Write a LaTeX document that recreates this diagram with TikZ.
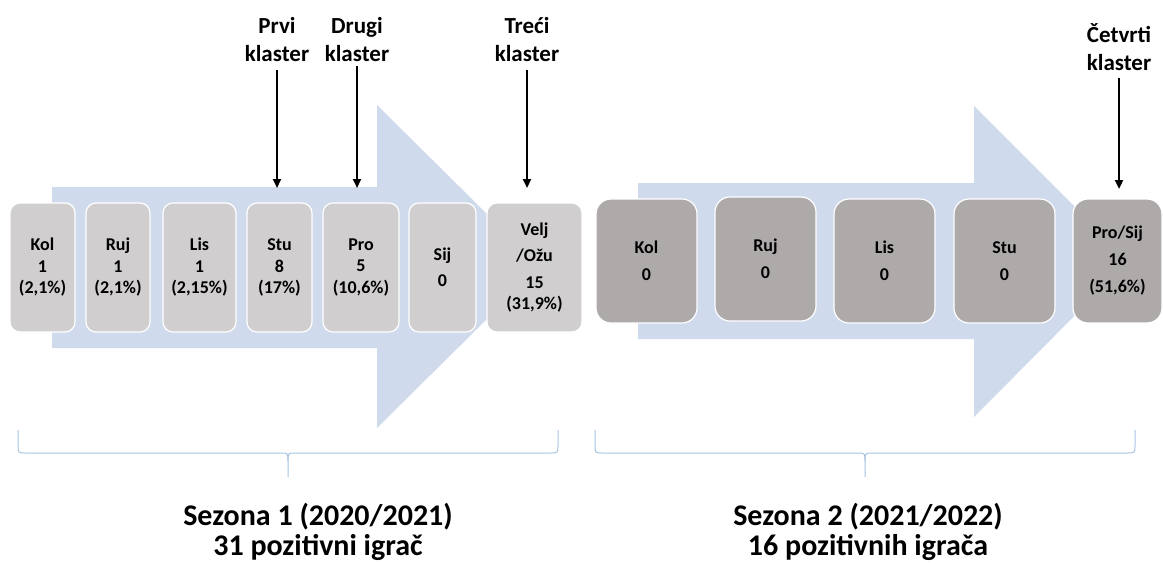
\documentclass[tikz,border=0pt]{standalone}
\usepackage{fontspec}
\setmainfont{Carlito}
\usetikzlibrary{arrows.meta}
\definecolor{arrowblue}{HTML}{CFDBEC}
\definecolor{boxlight}{HTML}{D0CECE}
\definecolor{boxdark}{HTML}{AEAAAA}
\definecolor{bracecol}{HTML}{A8C3E0}
\begin{document}
\begin{tikzpicture}[x=1pt,y=-1pt,
  mbox/.style={draw=white, line width=1.2pt, rounded corners=10pt, inner sep=0pt, align=center,
    font=\fontsize{18}{21.5}\selectfont\bfseries},
  lbox/.style={mbox, fill=boxlight, minimum height=129pt},
  dbox/.style={mbox, fill=boxdark, rounded corners=15pt, minimum height=124pt,
    font=\fontsize{18}{27}\selectfont\bfseries},
  clabel/.style={align=center, inner sep=0pt, anchor=south, font=\fontsize{23}{28}\selectfont\bfseries},
  clarrow/.style={-{Triangle[length=9pt,width=8pt]}, line width=2.2pt},
  flow/.style={fill=arrowblue},
  brace/.style={draw=bracecol, line width=1pt},
  season/.style={align=center, inner sep=0pt, font=\fontsize{30}{30.5}\selectfont\bfseries}]
\useasboundingbox (0,0) rectangle (1163,563);

% big flow arrows
\path[flow] (52,187) -- (377,187) -- (377,105) -- (540,266.5) -- (377,428) -- (377,348) -- (52,348) -- cycle;
\path[flow] (638,183) -- (974,183) -- (974,106) -- (1129,261) -- (974,417) -- (974,339) -- (638,339) -- cycle;

% season 1 boxes
\node[lbox, minimum width=65pt] (kol1) at (42.5,267.5) {Kol\\1\\(2,1\%)};
\node[lbox, minimum width=64pt] (ruj1) at (118,267.5) {Ruj\\1\\(2,1\%)};
\node[lbox, minimum width=73pt] (lis1) at (199.5,267.5) {Lis\\1\\(2,15\%)};
\node[lbox, minimum width=65pt] (stu1) at (279.5,267.5) {Stu\\8\\(17\%)};
\node[lbox, minimum width=76pt] (pro1) at (361,267.5) {Pro\\5\\(10,6\%)};
\node[lbox, minimum width=67pt] (sij1) at (442.5,267.5) {Sij\\[4.5pt]0};
\node[lbox, minimum width=95pt] (velj1) at (534.5,267.5) {Velj\\[5pt]/Ožu\\[5pt]15\\(31,9\%)};

% season 2 boxes
\node[dbox, minimum width=101pt] (kol2) at (646.5,261) {Kol\\0};
\node[dbox, minimum width=101pt] (ruj2) at (765.5,259) {Ruj\\0};
\node[dbox, minimum width=101pt] (lis2) at (884.5,261) {Lis\\0};
\node[dbox, minimum width=101pt] (stu2) at (1004.5,261) {Stu\\0};
\node[dbox, minimum width=89pt] (pro2) at (1117.5,261) {Pro/Sij\\16\\(51,6\%)};

% cluster labels
\node[clabel] (lab1) at (277,62) {Prvi\\klaster};
\node[clabel] (lab2) at (357,62) {Drugi\\klaster};
\node[clabel] (lab3) at (527,62) {Treći\\klaster};
\node[clabel] (lab4) at (1119,70.5) {Četvrti\\klaster};
\coordinate (c1) at (277,188);
\coordinate (c2) at (357,188);
\coordinate (c3) at (527,188);
\coordinate (c4) at (1119,189);
\draw[clarrow, shorten <=8pt] (lab1) -- (c1);
\draw[clarrow, shorten <=3.5pt] (lab2) -- (c2);
\draw[clarrow, shorten <=8pt] (lab3) -- (c3);
\draw[clarrow, shorten <=7.5pt] (lab4) -- (c4);

% braces
\draw[brace] (18,430) -- (18,445) .. controls (18,453) .. (26,453) -- (280,453) .. controls (288,453) .. (288,461) -- (288,477);
\draw[brace] (288,461) .. controls (288,453) .. (296,453) -- (550,453) .. controls (558,453) .. (558,445) -- (558,430);
\draw[brace] (595,430) -- (595,445) .. controls (595,453) .. (603,453) -- (857,453) .. controls (865,453) .. (865,461) -- (865,477);
\draw[brace] (865,461) .. controls (865,453) .. (873,453) -- (1127,453) .. controls (1135,453) .. (1135,445) -- (1135,430);

% season captions
\node[season] (s1) at (318,532) {Sezona 1 (2020/2021)\\31 pozitivni igrač};
\node[season] (s2) at (868,532) {Sezona 2 (2021/2022)\\16 pozitivnih igrača};
\end{tikzpicture}
\end{document}
